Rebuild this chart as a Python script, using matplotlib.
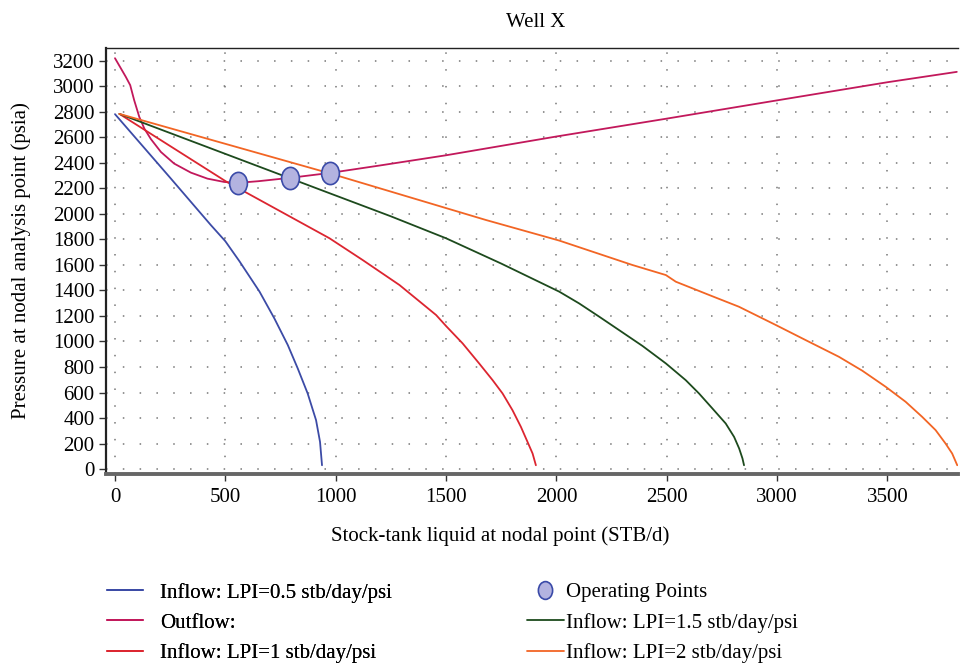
import matplotlib
matplotlib.use("Agg")
import matplotlib.pyplot as plt
from matplotlib.path import Path
import numpy as np

plt.rcParams['font.family'] = ['Liberation Serif', 'DejaVu Serif']

# ---- data ----
q_lpi05 = [0, 250, 434, 500, 564, 655, 722, 783, 828, 873, 911, 929, 938]
p_lpi05 = [2780, 2282, 1912, 1785, 1628, 1390, 1181, 972, 789, 593, 384, 214, 31]

q_out = [0, 49, 69, 87, 110, 133, 163, 208, 268, 344, 419, 495, 556, 650, 792, 975,
         1200, 1500, 2000, 2500, 3000, 3500, 3814]
p_out = [3218, 3072, 3007, 2889, 2759, 2667, 2584, 2484, 2393, 2322, 2275, 2249, 2242, 2255, 2281, 2320,
         2378, 2458, 2605, 2745, 2888, 3030, 3111]

q_lpi1 = [20, 504, 972, 1122, 1289, 1424, 1455, 1500, 1575, 1650, 1711, 1756, 1801, 1839, 1869, 1892, 1907]
p_lpi1 = [2782, 2252, 1808, 1638, 1442, 1251, 1207, 1121, 985, 828, 697, 593, 462, 332, 214, 123, 31]

q_lpi15 = [20, 972, 1250, 1500, 1750, 2013, 2103, 2194, 2284, 2390, 2496, 2586, 2646, 2707, 2767, 2805,
           2828, 2843, 2850]
p_lpi15 = [2782, 2161, 1980, 1808, 1610, 1390, 1298, 1194, 1089, 965, 828, 697, 593, 475, 358, 253,
           162, 84, 31]

q_lpi2 = [20, 972, 1681, 2013, 2344, 2496, 2541, 2692, 2827, 2994, 3129, 3280, 3386, 3492, 3582, 3657,
          3718, 3763, 3793, 3816]
p_lpi2 = [2782, 2317, 1951, 1790, 1599, 1520, 1468, 1364, 1272, 1129, 1011, 880, 771, 645, 528, 410,
          306, 201, 123, 31]

q_op = [556, 792, 975]
p_op = [2241, 2281, 2320]

labels = ["Inflow: LPI=0.5 stb/day/psi", "Outflow:", "Inflow: LPI=1 stb/day/psi",
          "Operating Points", "Inflow: LPI=1.5 stb/day/psi", "Inflow: LPI=2 stb/day/psi"]
xticks = [0, 500, 1000, 1500, 2000, 2500, 3000, 3500]
yticks = list(range(0, 3201, 200))

c_blue = '#3c4ba6'
c_out = '#c2185b'
c_red = '#dc2530'
c_green = '#1d4a1d'
c_orange = '#f26524'

fig = plt.figure(figsize=(9.61, 6.63), dpi=100)
ax = fig.add_axes([0.110, 0.285, 0.887, 0.643])

lw = 1.3
kw = dict(lw=lw, solid_joinstyle='round', solid_capstyle='round')
l1, = ax.plot(q_lpi05, p_lpi05, color=c_blue, label=labels[0], **kw)
l2, = ax.plot(q_out, p_out, color=c_out, label=labels[1], **kw)
l3, = ax.plot(q_lpi1, p_lpi1, color=c_red, label=labels[2], **kw)
l5, = ax.plot(q_lpi15, p_lpi15, color=c_green, label=labels[4], **kw)
l6, = ax.plot(q_lpi2, p_lpi2, color=c_orange, label=labels[5], **kw)

circ = Path.unit_circle()
ell = Path(circ.vertices * np.array([0.8, 1.0]), circ.codes)
l4, = ax.plot(q_op, p_op, linestyle='none', marker=ell, markersize=16,
              markerfacecolor='#b3b3e0', markeredgecolor='#3a4aa8', markeredgewidth=1.2,
              label=labels[3], zorder=5)

ax.set_xlim(-42, 3820)
ax.set_ylim(-38, 3300)
ax.set_xticks(xticks)
ax.set_yticks(yticks)
ax.tick_params(axis='both', labelsize=15, direction='out', length=5, width=1, color='#333333')
ax.tick_params(axis='x', pad=5)
ax.tick_params(axis='y', pad=3)
ax.grid(True, color='#777777', linestyle=(0, (1, 10)), linewidth=1.1)

ax.spines['right'].set_visible(False)
ax.spines['top'].set_linewidth(1.0)
ax.spines['top'].set_color('#222222')
ax.spines['left'].set_linewidth(1.6)
ax.spines['left'].set_color('#222222')
ax.spines['bottom'].set_linewidth(2.8)
ax.spines['bottom'].set_color('#666666')

fig.text(0.557, 0.966, "Well X", ha='center', va='center', fontsize=15)
fig.text(0.521, 0.191, "Stock-tank liquid at nodal point (STB/d)", ha='center', va='center', fontsize=15)
fig.text(0.022, 0.607, "Pressure at nodal analysis point (psia)", ha='center', va='center',
         rotation=90, fontsize=15)

leg1 = fig.legend([l1, l2, l3], labels[0:3], loc='upper left', bbox_to_anchor=(0.111, 0.121),
                  frameon=False, fontsize=15, handlelength=1.75, handletextpad=0.8,
                  labelspacing=0.5, borderpad=0, borderaxespad=0)
leg2 = fig.legend([l4, l5, l6], labels[3:6], loc='upper left', bbox_to_anchor=(0.548, 0.121),
                  frameon=False, fontsize=15, handlelength=1.8, handletextpad=0.1,
                  labelspacing=0.5, borderpad=0, borderaxespad=0, markerscale=0.8)
fig.add_artist(leg1)

fig.savefig("out.png", dpi=100)
